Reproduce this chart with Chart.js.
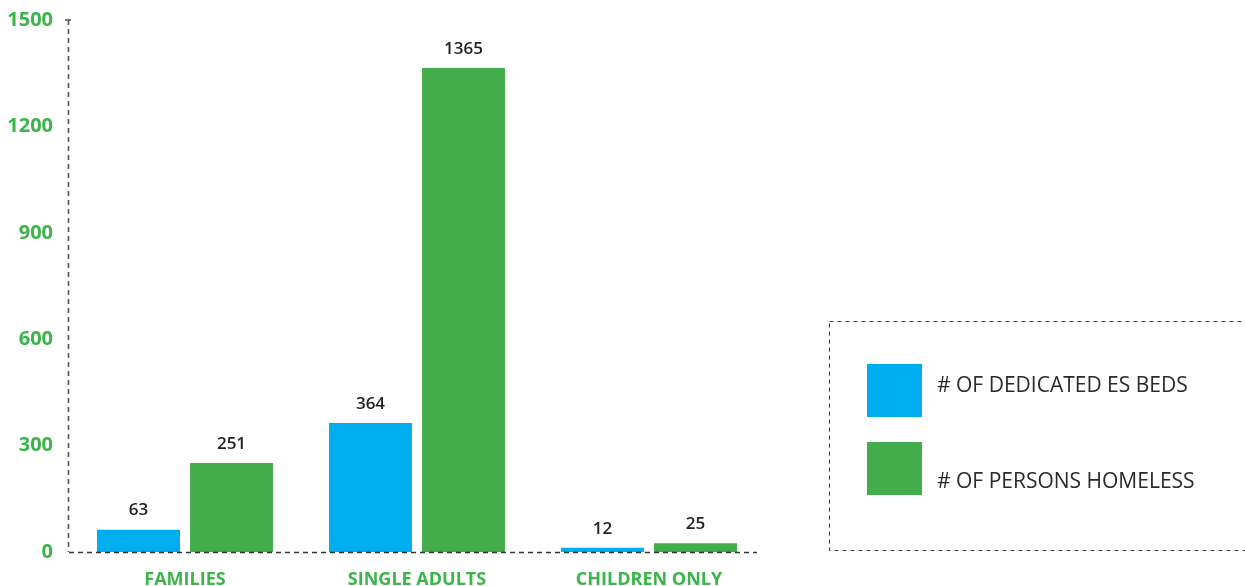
<!DOCTYPE html>
<html>
<head>
<meta charset="utf-8">
<script src="https://cdn.jsdelivr.net/npm/chart.js@4"></script>
<style>
html,body{margin:0;padding:0;background:#fff;}
#wrap{width:1245px;height:586px;position:relative;}
</style>
</head>
<body>
<div id="wrap"><canvas id="c" width="1245" height="586"></canvas></div>
<script>
const categories = ["FAMILIES", "SINGLE ADULTS", "CHILDREN ONLY"];
const dedicatedBeds = [63, 364, 12];
const personsHomeless = [251, 1365, 25];
const seriesLabels = ["# OF DEDICATED ES BEDS", "# OF PERSONS HOMELESS"];
const yTicks = [0, 300, 600, 900, 1200, 1500];

const BLUE = "#00aeef";
const GREEN = "#42ad4a";
const TICK_GREEN = "#3bb54a";
const FONT = "'Open Sans', sans-serif";

const valueLabels = {
  id: "valueLabels",
  afterDatasetsDraw(chart) {
    const ctx = chart.ctx;
    ctx.save();
    ctx.font = "600 17px " + FONT;
    ctx.fillStyle = "#222";
    ctx.textAlign = "center";
    ctx.textBaseline = "middle";
    chart.data.datasets.forEach((ds, i) => {
      const meta = chart.getDatasetMeta(i);
      meta.data.forEach((bar, j) => {
        ctx.fillText(String(ds.data[j]), bar.x, bar.y - 19);
      });
    });
    ctx.restore();
  }
};

const dashedAxes = {
  id: "dashedAxes",
  afterDatasetsDraw(chart) {
    const ctx = chart.ctx;
    const xa = chart.scales.x, ya = chart.scales.y;
    ctx.save();
    ctx.strokeStyle = "#555";
    ctx.lineWidth = 1.6;
    ctx.setLineDash([5, 4]);
    ctx.beginPath();
    ctx.moveTo(ya.right - 0.5, ya.top);
    ctx.lineTo(ya.right - 0.5, ya.bottom);
    ctx.stroke();
    ctx.strokeStyle = "#333";
    ctx.lineWidth = 1.3;
    ctx.setLineDash([5, 4]);
    ctx.beginPath();
    ctx.moveTo(xa.left, xa.top + 0.5);
    ctx.lineTo(xa.right - 8, xa.top + 0.5);
    ctx.stroke();
    ctx.setLineDash([]);
    ctx.strokeStyle = "#555";
    ctx.lineWidth = 1.5;
    ctx.beginPath();
    ctx.moveTo(ya.right - 4, ya.top);
    ctx.lineTo(ya.right + 2, ya.top);
    ctx.stroke();
    ctx.restore();
  }
};

const boxLegend = {
  id: "boxLegend",
  afterDraw(chart) {
    const ctx = chart.ctx;
    ctx.save();
    ctx.strokeStyle = "#444";
    ctx.lineWidth = 1.2;
    ctx.setLineDash([4, 4]);
    ctx.strokeRect(829.5, 321.5, 430, 229);
    ctx.setLineDash([]);
    const items = [
      {sq: 364, ty: 386},
      {sq: 442, ty: 482}
    ];
    ctx.font = "21px " + FONT;
    ctx.textAlign = "left";
    ctx.textBaseline = "middle";
    chart.data.datasets.forEach((ds, i) => {
      ctx.fillStyle = ds.backgroundColor;
      ctx.fillRect(867, items[i].sq, 55, 53);
      ctx.fillStyle = "#2a2a2a";
      ctx.fillText(ds.label, 937, items[i].ty);
    });
    ctx.restore();
  }
};

new Chart(document.getElementById("c"), {
  type: "bar",
  data: {
    labels: categories,
    datasets: [
      {label: seriesLabels[0], data: dedicatedBeds, backgroundColor: BLUE, categoryPercentage: 0.8017, barPercentage: 0.892},
      {label: seriesLabels[1], data: personsHomeless, backgroundColor: GREEN, categoryPercentage: 0.8017, barPercentage: 0.892}
    ]
  },
  options: {
    responsive: false,
    animation: false,
    devicePixelRatio: 1,
    layout: {padding: {top: 15, right: 480, bottom: 0, left: 0}},
    plugins: {legend: {display: false}, tooltip: {enabled: false}},
    scales: {
      x: {
        grid: {display: false},
        border: {display: false},
        ticks: {color: TICK_GREEN, font: {family: FONT, weight: "bold", size: 18}, padding: 9},
        afterFit(s) { s.height = 34; }
      },
      y: {
        min: 0, max: 1500,
        afterBuildTicks(s) { s.ticks = yTicks.map(v => ({value: v})); },
        grid: {display: false},
        border: {display: false},
        ticks: {color: TICK_GREEN, font: {family: FONT, weight: "bold", size: 20}, padding: 8,
                callback: (v) => String(v)},
        afterFit(s) { s.width = 69; }
      }
    }
  },
  plugins: [valueLabels, dashedAxes, boxLegend]
});
</script>
</body>
</html>
